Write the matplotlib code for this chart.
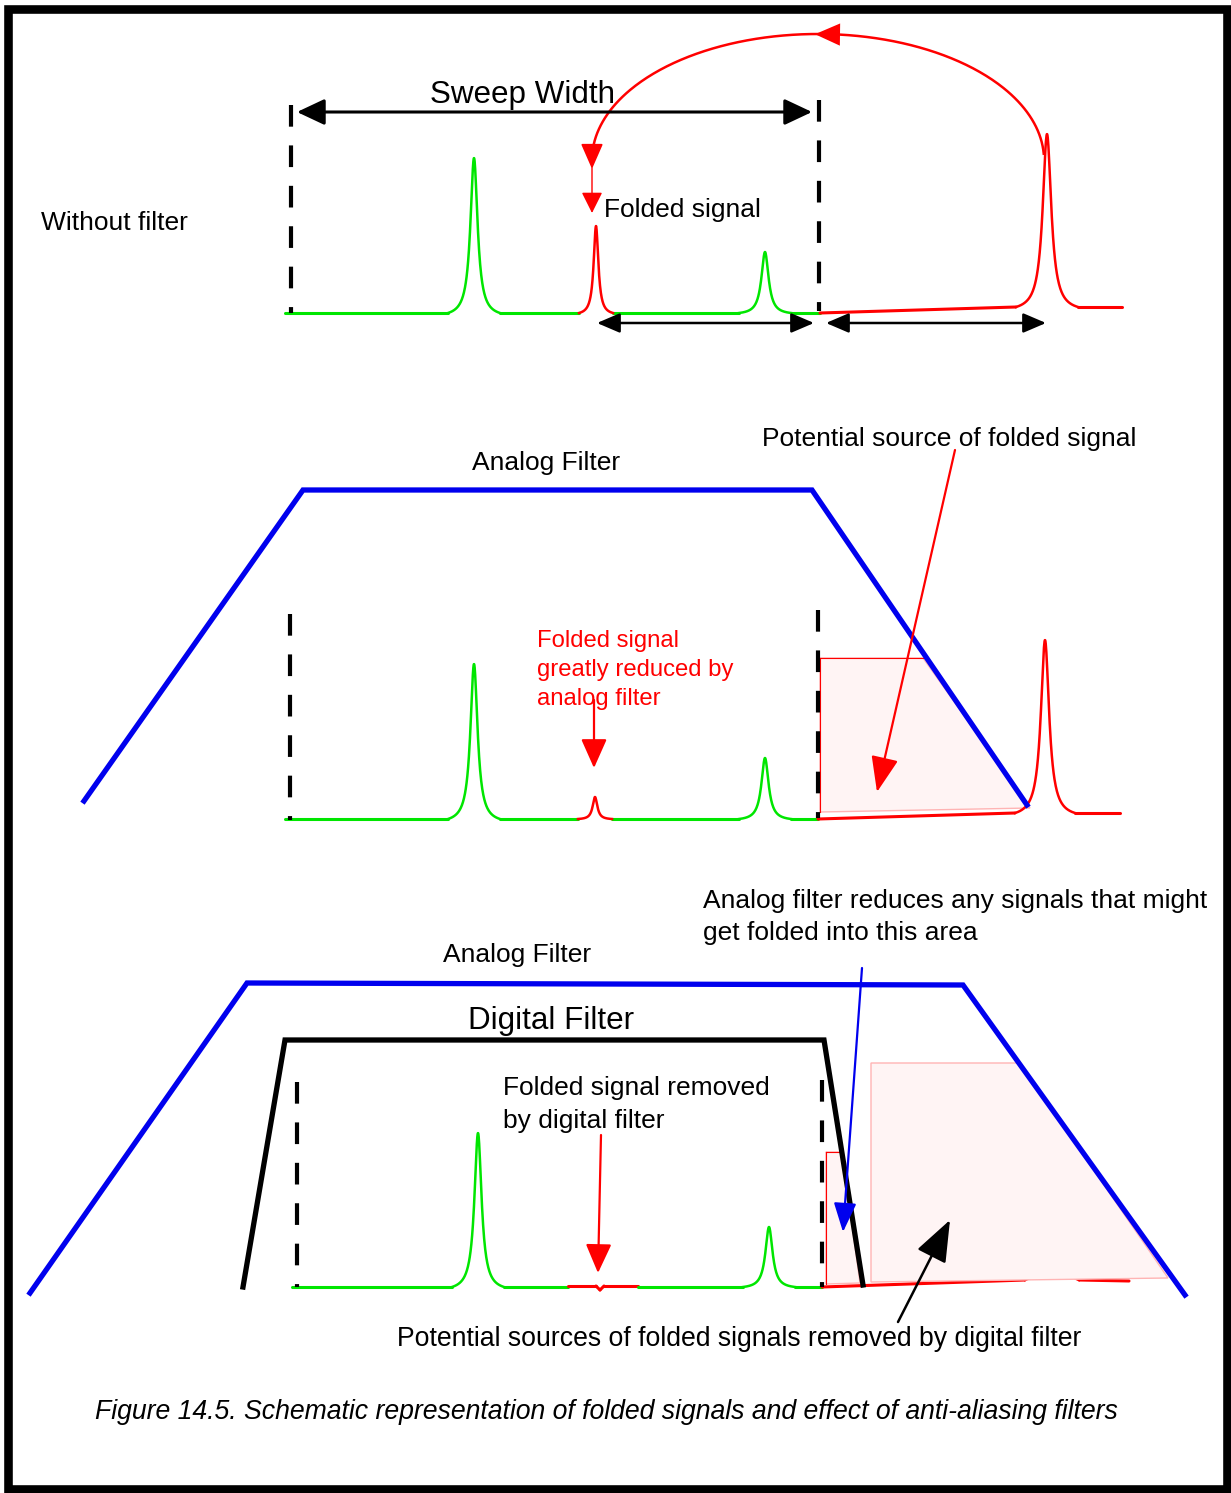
"""Schematic of folded signals and the effect of anti-aliasing filters (Fig. 14.5)."""

import numpy as np
import matplotlib.pyplot as plt
from matplotlib.patches import Polygon, Rectangle

plt.rcParams["font.family"] = ["Liberation Sans", "DejaVu Sans"]

W, H = 1231, 1493
GREEN = "#00e600"
RED = "#ff0000"
BLUE = "#0000ee"
PINK_FACE = "#fff4f4"
PINK_EDGE = "#ffb4b4"

# ---- panel 1: without filter -------------------------------------------
p1_base = [(285, 313, 448, 313, "g"), (500, 313, 579, 313, "g"),
           (613, 313, 739, 313, "g"), (791, 313, 820, 313, "g"),
           (820, 313, 1016, 307, "r"), (1078, 307, 1122, 307, "r")]
p1_peak_x = [474, 596, 765, 1047]
p1_peak_top = [158, 226, 252, 134]
p1_peak_foot = [26, 17, 26, 31]
p1_peak_base = [313, 313, 313, 307]
p1_peak_col = ["g", "r", "g", "r"]
p1_dash_x = [291, 819]
p1_dash_y = [(105, 313), (100, 311)]

# ---- panel 2: analog filter ----------------------------------------------
p2_base = [(285, 819, 448, 819, "g"), (500, 819, 578, 819, "g"),
           (612, 819, 739, 819, "g"), (791, 819, 818, 819, "g"),
           (818, 819, 1015, 813, "r"), (1075, 813, 1120, 813, "r")]
p2_peak_x = [474, 595, 765, 1045]
p2_peak_top = [664, 797, 758, 640]
p2_peak_foot = [26, 17, 26, 30]
p2_peak_base = [819, 819, 819, 813]
p2_peak_col = ["g", "r", "g", "r"]
p2_dash_x = [290, 818]
p2_dash_y = [(614, 820), (610, 818)]
p2_analog_x = [84, 303, 812, 1027]
p2_analog_y = [801, 490, 490, 805]
p2_pink_x = [820, 923, 1030, 820]
p2_pink_y = [658, 658, 808, 812]

# ---- panel 3: analog + digital filter ------------------------------------
p3_base = [(292, 1287, 452, 1287, "g"), (504, 1287, 568, 1287, "g"),
           (568, 1286, 596, 1286, "r"), (596, 1286, 600, 1290, "r"),
           (600, 1290, 604, 1286, "r"), (604, 1286, 638, 1286, "r"),
           (638, 1287, 743, 1287, "g"), (795, 1287, 822, 1287, "g"),
           (822, 1287, 1025, 1280, "r"), (1079, 1280, 1129, 1281, "r")]
p3_peak_x = [478, 769, 1052]
p3_peak_top = [1133, 1227, 1110]
p3_peak_foot = [26, 26, 27]
p3_peak_base = [1287, 1287, 1280]
p3_peak_col = ["g", "g", "r"]
p3_dash_x = [297, 822]
p3_dash_y = [(1082, 1287), (1080, 1287)]
p3_analog_x = [30, 247, 963, 1185]
p3_analog_y = [1293, 983, 985, 1295]
p3_digital_x = [243, 285, 824, 863]
p3_digital_y = [1287, 1040, 1040, 1285]
p3_pink_small_x = [826, 842, 860, 826]
p3_pink_small_y = [1152, 1152, 1283, 1284]
p3_pink_big_x = [871, 1020, 1168, 871]
p3_pink_big_y = [1063, 1063, 1278, 1282]

COLS = {"g": GREEN, "r": RED}


def draw_trace(ax, base, px, ptop, pfoot, pbase, pcol, zorder=3):
    for x0, y0, x1, y1, c in base:
        ax.plot([x0, x1], [y0, y1], color=COLS[c], lw=2.2,
                solid_capstyle="round", zorder=zorder)
    for x, top, hw, b, c in zip(px, ptop, pfoot, pbase, pcol):
        xs = np.linspace(x - hw, x + hw, 200)
        g = hw / 6.0
        lor = g**2 / ((xs - x) ** 2 + g**2)
        edge = g**2 / (hw**2 + g**2)
        shape = (lor - edge) / (1 - edge)
        ax.plot(xs, b - (b - top) * shape, color=COLS[c], lw=1.8, zorder=zorder)


def draw_dashes(ax, xs, ys):
    for x, (y0, y1) in zip(xs, ys):
        ax.plot([x, x], [y0, y1], color="black", lw=3.0,
                dashes=(5.2, 4.5), zorder=4)


def arrow(ax, start, end, color, lw=1.5, head=(16, 12), style="-|>"):
    hl, hw = head
    ax.annotate("", xy=end, xytext=start,
                arrowprops=dict(arrowstyle=f"{style},head_length={hl / 10:.2f},"
                                           f"head_width={hw / 20:.2f}",
                                color=color, lw=lw, shrinkA=0, shrinkB=0,
                                mutation_scale=10),
                zorder=6)


fig = plt.figure(figsize=(W / 100, H / 100), dpi=100)
ax = fig.add_axes([0, 0, 1, 1])
ax.set_xlim(0, W)
ax.set_ylim(H, 0)
ax.axis("off")

# frame
ax.add_patch(Rectangle((7.5, 9), 1219, 1480, fill=False, lw=6.2,
                       edgecolor="black", zorder=10))

txt = dict(fontsize=19, color="black", va="baseline", ha="left")

# ---------------- panel 1 ----------------
draw_trace(ax, p1_base, p1_peak_x, p1_peak_top, p1_peak_foot,
           p1_peak_base, p1_peak_col)
draw_dashes(ax, p1_dash_x, p1_dash_y)
arrow(ax, (297, 112), (812, 112), "black", lw=2.2, head=(17, 16), style="<|-|>")
arrow(ax, (597, 323), (814, 323), "black", lw=1.8, head=(14, 12), style="<|-|>")
arrow(ax, (826, 323), (1046, 323), "black", lw=1.8, head=(14, 12), style="<|-|>")
ax.text(430, 103, "Sweep Width", fontsize=22.6, va="baseline", ha="left")
ax.text(41, 230, "Without filter", **txt)
ax.text(604, 217, "Folded signal", **txt)

# folding arc: big red peak -> folded position
t = np.linspace(0.05, np.pi, 300)
arc_cx, arc_cy, arc_rx, arc_ry = 818, 160, 226, 126
ax.plot(arc_cx + arc_rx * np.cos(t), arc_cy - arc_ry * np.sin(t),
        color=RED, lw=1.8, zorder=5)
arrow(ax, (836, 34.5), (815, 34.2), RED, lw=0, head=(18, 16))
arrow(ax, (592, 150), (592, 169), RED, lw=1.2, head=(16, 14))
arrow(ax, (592, 168), (592, 213), RED, lw=1.0, head=(13, 13))

# ---------------- panel 2 ----------------
ax.add_patch(Polygon(np.column_stack([p2_pink_x, p2_pink_y]), closed=True,
                     facecolor=PINK_FACE, edgecolor=PINK_EDGE, lw=1, zorder=2))
ax.plot(p2_pink_x[:2], p2_pink_y[:2], color=RED, lw=0.8, zorder=2)
ax.plot([p2_pink_x[0], p2_pink_x[3]], [p2_pink_y[0], p2_pink_y[3]],
        color=RED, lw=0.8, zorder=2)
draw_trace(ax, p2_base, p2_peak_x, p2_peak_top, p2_peak_foot,
           p2_peak_base, p2_peak_col)
draw_dashes(ax, p2_dash_x, p2_dash_y)
ax.plot(p2_analog_x, p2_analog_y, color=BLUE, lw=3.8, zorder=5,
        solid_joinstyle="miter")
ax.text(472, 470, "Analog Filter", **txt)
ax.text(762, 446, "Potential source of folded signal", **txt)
arrow(ax, (955, 450), (877, 792), RED, lw=1.6, head=(22, 17))
for i, line in enumerate(["Folded signal", "greatly reduced by", "analog filter"]):
    ax.text(537, 647 + 29 * i, line, fontsize=17.2, color=RED,
            va="baseline", ha="left")
arrow(ax, (594, 700), (594, 768), RED, lw=1.6, head=(18, 16))

# ---------------- panel 3 ----------------
draw_trace(ax, p3_base, p3_peak_x, p3_peak_top, p3_peak_foot,
           p3_peak_base, p3_peak_col, zorder=1)
for px_, py_ in [(p3_pink_small_x, p3_pink_small_y), (p3_pink_big_x, p3_pink_big_y)]:
    ax.add_patch(Polygon(np.column_stack([px_, py_]), closed=True,
                         facecolor=PINK_FACE, edgecolor=PINK_EDGE, lw=1, zorder=2))
ax.plot([p3_pink_small_x[0], p3_pink_small_x[1]],
        [p3_pink_small_y[0], p3_pink_small_y[1]], color=RED, lw=0.8, zorder=2)
ax.plot([p3_pink_small_x[0], p3_pink_small_x[3]],
        [p3_pink_small_y[0], p3_pink_small_y[3]], color=RED, lw=0.8, zorder=2)
draw_dashes(ax, p3_dash_x, p3_dash_y)
ax.plot(p3_analog_x, p3_analog_y, color=BLUE, lw=3.8, zorder=5,
        solid_joinstyle="miter")
ax.plot(p3_digital_x, p3_digital_y, color="black", lw=3.8, zorder=5,
        solid_joinstyle="miter")
ax.text(703, 908, "Analog filter reduces any signals that might", **txt)
ax.text(703, 940, "get folded into this area", **txt)
ax.text(443, 962, "Analog Filter", **txt)
ax.text(468, 1029, "Digital Filter", fontsize=22.6, va="baseline", ha="left")
ax.text(503, 1095, "Folded signal removed", **txt)
ax.text(503, 1128, "by digital filter", **txt)
arrow(ax, (601, 1135), (598, 1273), RED, lw=1.6, head=(18, 16))
arrow(ax, (862, 968), (843, 1232), BLUE, lw=1.6, head=(18, 14))
arrow(ax, (898, 1322), (950, 1220), "black", lw=1.8, head=(26, 20))
ax.text(397, 1346, "Potential sources of folded signals removed by digital filter",
        fontsize=19.15, va="baseline", ha="left")

ax.text(95, 1419, "Figure 14.5. Schematic representation of folded signals and "
                  "effect of anti-aliasing filters",
        fontsize=19.2, style="italic", va="baseline", ha="left")

fig.savefig("out.png", dpi=100)
